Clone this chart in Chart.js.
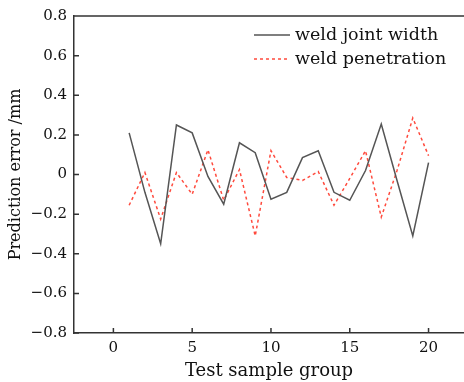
<!DOCTYPE html>
<html>
<head>
<meta charset="utf-8">
<script src="https://cdn.jsdelivr.net/npm/chart.js@4.4.8/dist/chart.umd.min.js"></script>
<style>
  html, body { margin: 0; padding: 0; background: #fff; }
  #wrap { width: 464px; height: 382px; }
</style>
</head>
<body>
<div id="wrap"><canvas id="c"></canvas></div>
<script>
// test sample group index
const groups = [1,2,3,4,5,6,7,8,9,10,11,12,13,14,15,16,17,18,19,20];
// prediction error (mm)
const jointWidthErr = [0.21,-0.09,-0.35,0.25,0.21,-0.01,-0.15,0.16,0.11,-0.125,-0.09,0.085,0.12,-0.09,-0.13,0.02,0.255,-0.03,-0.31,0.06];
const penetrationErr = [-0.155,0.01,-0.225,0.01,-0.10,0.125,-0.13,0.025,-0.31,0.12,-0.015,-0.03,0.015,-0.155,-0.02,0.12,-0.215,0.02,0.285,0.095];
const xTicks = [0,5,10,15,20];
const yTicks = [-0.8,-0.6,-0.4,-0.2,0,0.2,0.4,0.6,0.8];

const axisColor = '#333';
const textColor = '#111';
const serif = 'DejaVu Serif';

// inward tick marks, top frame line and the legend box
const framePlugin = {
  id: 'frame',
  afterDraw(chart) {
    const ctx = chart.ctx;
    const a = chart.chartArea;
    const xs = chart.scales.x, ys = chart.scales.y;
    ctx.save();
    ctx.strokeStyle = axisColor;
    ctx.lineWidth = 1.5;
    ctx.beginPath();
    ctx.moveTo(a.left, a.top);
    ctx.lineTo(a.right, a.top);
    xTicks.forEach(v => {
      const px = xs.getPixelForValue(v);
      ctx.moveTo(px, a.bottom);
      ctx.lineTo(px, a.bottom - 5);
    });
    yTicks.forEach(v => {
      const py = ys.getPixelForValue(v);
      ctx.moveTo(a.left, py);
      ctx.lineTo(a.left + 5, py);
    });
    ctx.stroke();

    // legend
    ctx.font = '17.5px "' + serif + '"';
    ctx.textBaseline = 'middle';
    ctx.textAlign = 'left';
    chart.data.datasets.forEach((ds, i) => {
      const y = 35 + i * 24;
      ctx.strokeStyle = ds.borderColor;
      ctx.lineWidth = ds.borderWidth;
      ctx.setLineDash(ds.borderDash || []);
      ctx.beginPath();
      ctx.moveTo(254, y);
      ctx.lineTo(290, y);
      ctx.stroke();
      ctx.setLineDash([]);
      ctx.fillStyle = textColor;
      ctx.fillText(ds.label, 295, y);
    });
    ctx.restore();
  }
};

const fmt = v => {
  const s = Math.abs(v) < 1e-9 ? '0' : Math.abs(v).toFixed(1);
  return v < -1e-9 ? '\u2212' + s : s;
};

new Chart(document.getElementById('c'), {
  type: 'line',
  data: {
    datasets: [
      {
        label: 'weld joint width',
        data: groups.map((g, i) => ({ x: g, y: jointWidthErr[i] })),
        borderColor: '#555',
        borderWidth: 1.5,
        pointRadius: 0,
        tension: 0
      },
      {
        label: 'weld penetration',
        data: groups.map((g, i) => ({ x: g, y: penetrationErr[i] })),
        borderColor: '#ff4a3d',
        borderWidth: 1.5,
        borderDash: [3, 3],
        pointRadius: 0,
        tension: 0
      }
    ]
  },
  options: {
    responsive: true,
    maintainAspectRatio: false,
    animation: false,
    events: [],
    layout: { padding: { top: 15, right: 0, left: 0, bottom: 0 } },
    plugins: {
      legend: { display: false },
      tooltip: { enabled: false }
    },
    scales: {
      x: {
        type: 'linear',
        min: -2.5,
        max: 22.25,
        afterBuildTicks: s => { s.ticks = xTicks.map(v => ({ value: v })); },
        afterFit: s => { s.height = 49; },
        grid: { display: false, drawTicks: false },
        border: { display: true, color: axisColor, width: 1.5 },
        ticks: {
          padding: 6,
          color: textColor,
          font: { family: serif, size: 15 },
          maxRotation: 0
        },
        title: {
          display: true,
          text: 'Test sample group',
          color: textColor,
          font: { family: serif, size: 18 },
          padding: { top: 0, bottom: 0 }
        }
      },
      y: {
        min: -0.8,
        max: 0.8,
        afterBuildTicks: s => { s.ticks = yTicks.map(v => ({ value: v })); },
        afterFit: s => { s.width = 74; },
        grid: { display: false, drawTicks: false },
        border: { display: true, color: axisColor, width: 1.5 },
        ticks: {
          padding: 7,
          color: textColor,
          font: { family: serif, size: 15 },
          callback: v => fmt(v)
        },
        title: {
          display: true,
          text: 'Prediction error /mm',
          color: textColor,
          font: { family: serif, size: 16 },
          padding: { top: 6, bottom: 0 }
        }
      }
    }
  },
  plugins: [framePlugin]
});
</script>
</body>
</html>
